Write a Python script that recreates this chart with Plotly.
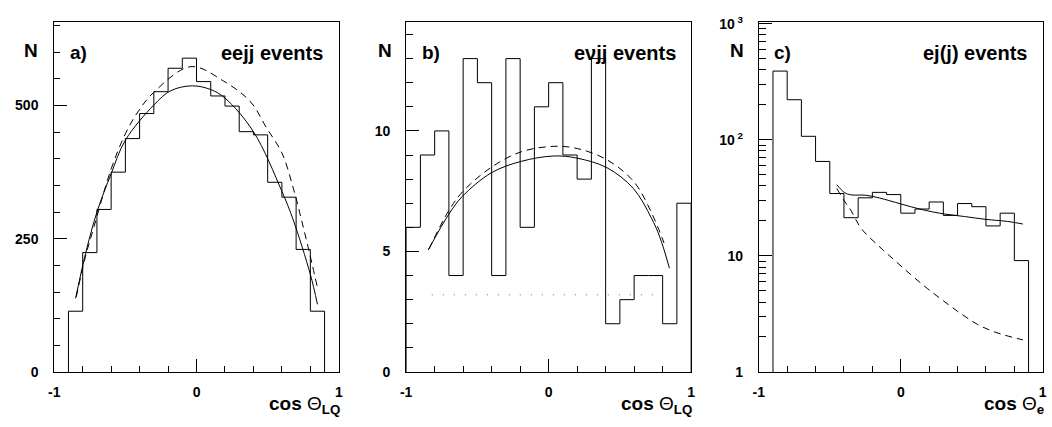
import plotly.graph_objects as go

W, H = 1052, 427

# ---------------- data ----------------
# panel a: eejj events (bins of 0.1 from -0.9 to 0.9)
a_edges = [-0.9, -0.8, -0.7, -0.6, -0.5, -0.4, -0.3, -0.2, -0.1, 0.0,
           0.1, 0.2, 0.3, 0.4, 0.5, 0.6, 0.7, 0.8, 0.9]
a_counts = [114, 224, 305, 375, 438, 485, 526, 570, 589, 545,
            518, 499, 451, 445, 356, 328, 230, 114]
a_fit_x = [-0.85, -0.78, -0.7, -0.6, -0.5, -0.3, -0.18, -0.03, 0.1, 0.2, 0.4, 0.6, 0.68, 0.8, 0.85]
a_fit_y = [138, 222, 300, 372, 435, 501, 528, 537, 530, 514, 451, 339, 285, 183, 127]
a_dash_x = [-0.845, -0.78, -0.72, -0.6, -0.5, -0.41, -0.3, -0.04, 0.19, 0.38, 0.49, 0.6, 0.68, 0.75, 0.81, 0.85]
a_dash_y = [141, 217, 273, 381, 447, 489, 525, 573, 546, 507, 459, 411, 345, 272, 205, 158]

# panel b: e nu jj events (bins of 0.1 from -1 to 1)
b_edges = [-1.0, -0.9, -0.8, -0.7, -0.6, -0.5, -0.4, -0.3, -0.2, -0.1, 0.0,
           0.1, 0.2, 0.3, 0.4, 0.5, 0.6, 0.7, 0.8, 0.9, 1.0]
b_counts = [6, 9, 10, 4, 13, 12, 4, 13, 6, 11, 12, 9, 8, 13, 2, 3, 4, 4, 2, 7]
b_fit_x = [-0.845, -0.7, -0.606, -0.4, -0.19, 0.037, 0.2, 0.41, 0.595, 0.72, 0.78, 0.848]
b_fit_y = [5.06, 6.55, 7.28, 8.27, 8.74, 8.96, 8.87, 8.47, 7.61, 6.4, 5.6, 4.3]
b_dash_x = [-0.84, -0.7, -0.6, -0.4, -0.19, 0.04, 0.2, 0.41, 0.6, 0.73, 0.81]
b_dash_y = [5.1, 6.7, 7.5, 8.5, 9.14, 9.36, 9.27, 8.8, 7.88, 6.5, 5.35]
b_dot_x = [-0.82, 0.79]
b_dot_y = [3.2, 3.2]

# panel c: ej(j) events (bins of 0.1 from -0.9 to 0.9), log scale
c_edges = a_edges
c_counts = [390, 221, 107, 65, 34.4, 21.3, 31.6, 35.2, 33.7, 23.3,
            25.3, 29.1, 22.3, 28.2, 26.5, 18.1, 23.3, 9.1]
c_fit_x = [-0.45, -0.395, -0.35, -0.25, -0.15, 0.0, 0.15, 0.3, 0.45, 0.6, 0.75, 0.86]
c_fit_y = [41, 35, 33.5, 33.3, 31.5, 28, 25, 23, 21.8, 20.6, 19.8, 18.8]
c_dash_x = [-0.45, -0.40, -0.35, -0.28, -0.16, -0.05, 0.07, 0.19, 0.3, 0.42, 0.54, 0.67, 0.86]
c_dash_y = [38, 30, 24.5, 17.3, 12.3, 9.3, 6.9, 5.2, 4.1, 3.2, 2.57, 2.19, 1.89]

FONT = "Liberation Sans"


def outline(edges, counts, base):
    xs, ys = [edges[0]], [base]
    for i, c in enumerate(counts):
        xs += [edges[i], edges[i + 1]]
        ys += [c, c]
    xs.append(edges[-1])
    ys.append(base)
    return xs, ys


fig = go.Figure()

panels = [
    dict(xa="x", ya="y", edges=a_edges, counts=a_counts, base=0,
         fx=a_fit_x, fy=a_fit_y, dx=a_dash_x, dy=a_dash_y),
    dict(xa="x2", ya="y2", edges=b_edges, counts=b_counts, base=0,
         fx=b_fit_x, fy=b_fit_y, dx=b_dash_x, dy=b_dash_y),
    dict(xa="x3", ya="y3", edges=c_edges, counts=c_counts, base=1,
         fx=c_fit_x, fy=c_fit_y, dx=c_dash_x, dy=c_dash_y),
]

for p in panels:
    hx, hy = outline(p["edges"], p["counts"], p["base"])
    fig.add_trace(go.Scatter(x=hx, y=hy, mode="lines", xaxis=p["xa"], yaxis=p["ya"],
                             line=dict(color="black", width=1), showlegend=False,
                             hoverinfo="skip"))
    fig.add_trace(go.Scatter(x=p["fx"], y=p["fy"], mode="lines", xaxis=p["xa"], yaxis=p["ya"],
                             line=dict(color="black", width=1, shape="spline", smoothing=1.0),
                             showlegend=False))
    fig.add_trace(go.Scatter(x=p["dx"], y=p["dy"], mode="lines", xaxis=p["xa"], yaxis=p["ya"],
                             line=dict(color="black", width=1, shape="spline", smoothing=1.0,
                                       dash="7px,5px"),
                             showlegend=False))

fig.add_trace(go.Scatter(x=b_dot_x, y=b_dot_y, mode="lines", xaxis="x2", yaxis="y2",
                         line=dict(color="#666666", width=1, dash="1px,10px"),
                         showlegend=False))


def px(x):
    return x / W


def py(y):
    return 1 - y / H


frames = [(48.7, 336.0), (404.0, 691.7), (760.0, 1046.7)]
ydom = [py(378.0), py(14.0)]

tickfont = dict(family=FONT, size=14, color="black", weight="bold")

common_x = dict(range=[-1, 1], showline=True, linecolor="black", linewidth=1, mirror=True,
                showgrid=False, zeroline=False, ticks="inside", ticklen=13, tickwidth=1,
                tickcolor="black", tickvals=[-1, 0, 1], ticktext=["-1", "0", "1"],
                tickfont=tickfont, ticklabelstandoff=7,
                minor=dict(ticks="inside", ticklen=6, dtick=0.2, tick0=-1, tickcolor="black",
                           showgrid=False))
common_y = dict(showline=True, linecolor="black", linewidth=1, mirror=True, showgrid=False,
                zeroline=False, ticks="inside", ticklen=13, tickwidth=1, tickcolor="black",
                tickfont=tickfont, ticklabelstandoff=12)

log_minor = []
for dec in [1, 10, 100]:
    for m in [2, 3, 4, 5, 6, 7, 8, 9]:
        log_minor.append(m * dec)

fig.update_layout(
    width=W, height=H, margin=dict(l=0, r=0, t=0, b=0),
    paper_bgcolor="white", plot_bgcolor="white",
    xaxis=dict(domain=[px(frames[0][0]), px(frames[0][1])], anchor="y", **common_x),
    xaxis2=dict(domain=[px(frames[1][0]), px(frames[1][1])], anchor="y2", **common_x),
    xaxis3=dict(domain=[px(frames[2][0]), px(frames[2][1])], anchor="y3", **common_x),
    yaxis=dict(domain=ydom, anchor="x", range=[0, 656], tickvals=[0, 250, 500],
               minor=dict(ticks="inside", ticklen=6, dtick=50, tick0=0, tickcolor="black",
                          showgrid=False), **common_y),
    yaxis2=dict(domain=ydom, anchor="x2", range=[0, 14.5], tickvals=[0, 5, 10],
                minor=dict(ticks="inside", ticklen=7, dtick=1, tick0=0, tickcolor="black",
                           showgrid=False), **common_y),
    yaxis3=dict(domain=ydom, anchor="x3", type="log", range=[0, 3.01],
                tickvals=[1, 10, 100, 1000],
                ticktext=["1", "10", "10<sup> 2</sup>", "10<sup> 3</sup>"],
                minor=dict(ticks="inside", ticklen=7, tickvals=log_minor, tickcolor="black",
                           showgrid=False), **common_y),
)

big = dict(family=FONT, size=19, color="black", weight="bold")
title_font = dict(family=FONT, size=19, color="black", weight="bold")

theta = '<span style="font-weight:normal">Θ</span>'
anns = []
labels = [("a)", "eejj events", "cos " + theta + "<sub>LQ</sub>"),
          ("b)", "eνjj events", "cos " + theta + "<sub>LQ</sub>"),
          ("c)", "ej(j) events", "cos " + theta + "<sub>e</sub>")]
N_x = [25, 383, 738]
for i, (lab, ev, ttl) in enumerate(labels):
    x0, x1 = frames[i]
    anns.append(dict(text="N", x=px(N_x[i]), y=py(43), xanchor="center", yanchor="middle",
                     font=big))
    anns.append(dict(text=lab, x=px(x0 + 14.5), y=py(45), xanchor="left", yanchor="middle",
                     font=big))
    anns.append(dict(text=ev, x=px(x1 - 14.5), y=py(46), xanchor="right", yanchor="middle",
                     font=dict(family=FONT, size=20, color="black", weight="bold")))
    anns.append(dict(text=ttl, x=px(x1 + 2), y=py(412), xanchor="right", yanchor="middle",
                     font=title_font))

for a in anns:
    a.update(xref="paper", yref="paper", showarrow=False, borderpad=0)
fig.update_layout(annotations=anns)

fig.write_html("out.html", config={"displayModeBar": False},
               post_script="document.body.style.margin='0';document.body.style.overflow='hidden';")
